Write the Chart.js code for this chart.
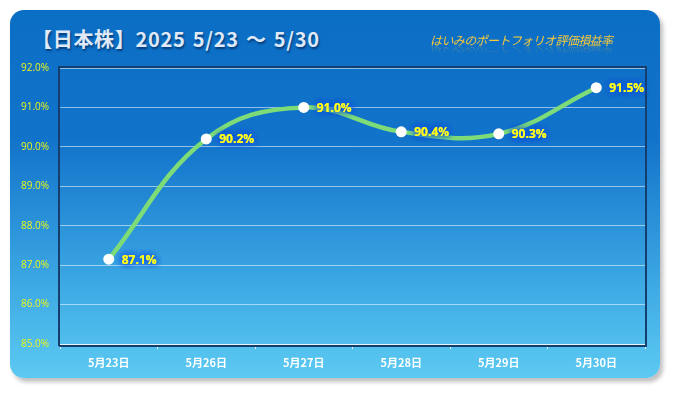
<!DOCTYPE html>
<html>
<head>
<meta charset="utf-8">
<script src="https://cdn.jsdelivr.net/npm/chart.js@4"></script>
<style>
  body { margin: 0; background: #ffffff; }
  #wrap { position: relative; width: 675px; height: 393px; overflow: hidden; }
  #card {
    position: absolute; left: 10px; top: 10px; width: 650px; height: 368px;
    border-radius: 14px;
    background: linear-gradient(#0b6ec5 0%, #1273ca 35%, #3aa5e2 72%, #5ccaf2 100%);
    box-shadow: 3px 4px 4px rgba(0,0,0,0.25);
  }
  #title {
    position: absolute; left: 32px; top: 24px;
    font-family: "Noto Sans CJK JP", sans-serif; font-weight: bold; font-size: 20px;
    color: #dfe9f7; letter-spacing: 0.7px; word-spacing: 2px;
    text-shadow: 1px 2px 2px rgba(0,40,90,0.7);
  }
  #sub {
    position: absolute; left: 430px; top: 31px;
    font-family: "Noto Sans CJK JP", sans-serif; font-style: italic; font-size: 12px;
    color: #f8c93a; letter-spacing: -0.6px;
    -webkit-box-reflect: below -4px linear-gradient(transparent 40%, rgba(255,255,255,0.35));
  }
  canvas { position: absolute; left: 0; top: 0; }
</style>
</head>
<body>
<div id="wrap">
  <div id="card"></div>
  <div id="title">【日本株】2025 5/23 〜 5/30</div>
  <div id="sub">はいみのポートフォリオ評価損益率</div>
  <canvas id="c" width="675" height="393"></canvas>
</div>
<script>
const labels = ['5月23日', '5月26日', '5月27日', '5月28日', '5月29日', '5月30日'];
const values = [87.15, 90.2, 91.0, 90.38, 90.33, 91.5];
const valueLabels = ['87.1%', '90.2%', '91.0%', '90.4%', '90.3%', '91.5%'];
const yMin = 85, yMax = 92;

// value labels next to each point, with a blue glow
const pointLabels = {
  id: 'pointLabels',
  afterDatasetsDraw(chart) {
    const ctx = chart.ctx;
    const meta = chart.getDatasetMeta(0);
    ctx.save();
    ctx.font = 'bold 12px "Open Sans", sans-serif';
    ctx.textAlign = 'left';
    ctx.textBaseline = 'middle';
    meta.data.forEach((pt, i) => {
      ctx.shadowColor = 'rgba(20,80,230,0.95)';
      ctx.shadowBlur = 6;
      ctx.fillStyle = '#ffff1a';
      for (let k = 0; k < 3; k++) ctx.fillText(valueLabels[i], pt.x + 13, pt.y + 1);
    });
    ctx.restore();
  }
};

// sunken dark frame of the plot area
const frame = {
  id: 'frame',
  beforeDatasetsDraw(chart) {
    const { ctx, chartArea: a } = chart;
    ctx.save();
    ctx.strokeStyle = '#153e6e';
    ctx.lineWidth = 2;
    ctx.beginPath();
    ctx.moveTo(a.left - 1, a.bottom + 2);
    ctx.lineTo(a.left - 1, a.top - 1);
    ctx.lineTo(a.right + 1, a.top - 1);
    ctx.lineTo(a.right + 1, a.bottom + 2);
    ctx.lineTo(a.left - 1, a.bottom + 2);
    ctx.stroke();
    ctx.strokeStyle = '#e6f4fb';
    ctx.lineWidth = 1;
    ctx.beginPath();
    ctx.moveTo(a.left, a.bottom + 0.5);
    ctx.lineTo(a.right, a.bottom + 0.5);
    ctx.stroke();
    ctx.restore();
  }
};

new Chart(document.getElementById('c'), {
  type: 'line',
  data: {
    labels: labels,
    datasets: [{
      data: values,
      borderColor: '#7ddc78',
      borderWidth: 4.5,
      tension: 0.4,
      pointRadius: 5.5,
      pointBackgroundColor: '#ffffff',
      pointBorderColor: '#ffffff',
      pointBorderWidth: 0
    }]
  },
  options: {
    responsive: false,
    animation: false,
    layout: { padding: { top: 68, right: 30, left: 1, bottom: 0 } },
    plugins: { legend: { display: false }, tooltip: { enabled: false } },
    scales: {
      x: {
        offset: true,
        afterFit(s) { s.height = 49; },
        grid: { offset: true, drawOnChartArea: false, drawTicks: true, tickLength: 5, color: '#e6f4fb' },
        border: { display: false },
        ticks: {
          color: '#ffffff', padding: 7,
          font: { family: '"Noto Sans CJK JP", sans-serif', weight: 'bold', size: 11 }
        }
      },
      y: {
        min: yMin, max: yMax,
        afterFit(s) { s.width = 59; },
        grid: { color: 'rgba(230,245,255,0.6)', drawTicks: false },
        border: { display: false },
        ticks: {
          stepSize: 1, color: '#e8f51a', padding: 11,
          font: { family: '"Open Sans", sans-serif', size: 10 },
          callback: v => v.toFixed(1) + '%'
        }
      }
    }
  },
  plugins: [frame, pointLabels]
});
</script>
</body>
</html>
